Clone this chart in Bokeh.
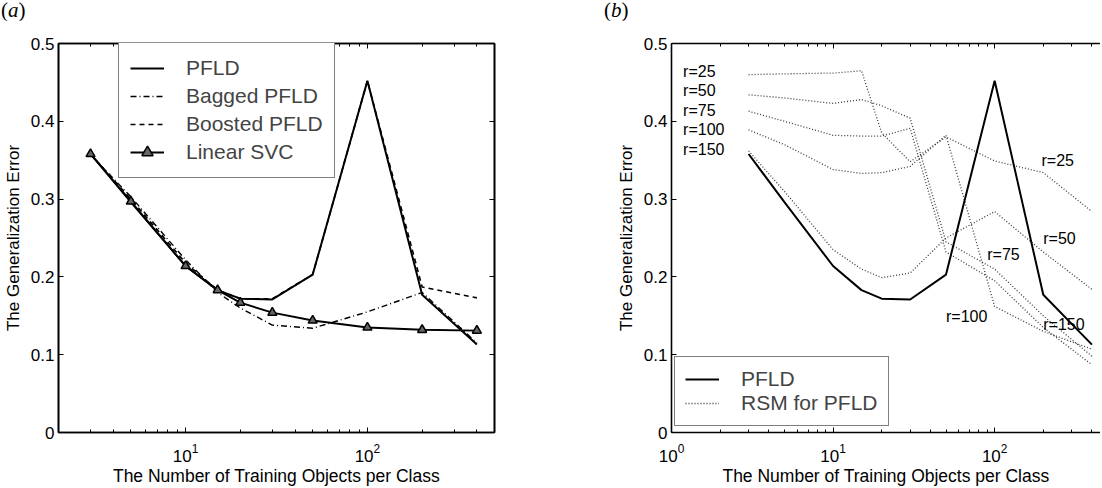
from bokeh.plotting import figure
from bokeh.models import (Range1d, FixedTicker, LogAxis, LinearAxis, Legend, LegendItem, Label, Div)
from bokeh.layouts import row, column
from bokeh.embed import file_html
from bokeh.resources import INLINE

# ---------------- data ----------------
n_train = [3, 5, 10, 15, 20, 30, 50, 100, 200, 400]

# panel (a)
pfld = [0.358, 0.296, 0.214, 0.183, 0.172, 0.171, 0.203, 0.452, 0.177, 0.113]
bagged_pfld = [0.357, 0.303, 0.222, 0.180, 0.160, 0.138, 0.134, 0.155, 0.180, 0.115]
boosted_pfld = [0.358, 0.300, 0.218, 0.183, 0.172, 0.172, 0.203, 0.452, 0.187, 0.173]
linear_svc = [0.358, 0.297, 0.214, 0.183, 0.167, 0.154, 0.144, 0.135, 0.132, 0.131]

# panel (b): RSM for PFLD, five subspace sizes
rsm_r25 = [0.460, 0.461, 0.462, 0.465, 0.385, 0.348, 0.380, 0.349, 0.334, 0.284]
rsm_r50 = [0.434, 0.430, 0.423, 0.428, 0.420, 0.404, 0.245, 0.210, 0.150, 0.098]
rsm_r75 = [0.413, 0.400, 0.382, 0.381, 0.381, 0.391, 0.232, 0.195, 0.135, 0.087]
rsm_r100 = [0.389, 0.370, 0.338, 0.333, 0.334, 0.342, 0.382, 0.162, 0.130, 0.107]
rsm_r150 = [0.362, 0.310, 0.235, 0.210, 0.199, 0.205, 0.250, 0.284, 0.232, 0.184]
rsm_series = [rsm_r25, rsm_r50, rsm_r75, rsm_r100, rsm_r150]
rsm_names = ["r=25", "r=50", "r=75", "r=100", "r=150"]

y_ticks = [0, 0.1, 0.2, 0.3, 0.4, 0.5]
y_tick_labels = ["0", "0.1", "0.2", "0.3", "0.4", "0.5"]

FONT = "Liberation Sans"


def style_axis(ax, minor=True):
    ax.axis_line_width = 1.6
    ax.axis_line_color = "black"
    ax.major_tick_in = 5
    ax.major_tick_out = 0
    ax.minor_tick_in = 3 if minor else 0
    ax.minor_tick_out = 0
    ax.major_tick_line_color = "black"
    ax.minor_tick_line_color = "black"
    ax.major_label_text_font = FONT
    ax.major_label_text_color = "black"
    ax.axis_label_text_font = FONT
    ax.axis_label_text_font_style = "normal"
    ax.axis_label_text_color = "black"


def blank_labels(ax, ticks):
    ax.major_label_overrides = {t: "" for t in ticks}
    ax.major_label_text_font_size = "4px"
    ax.major_label_standoff = 0


def make_fig(x0, x1, xt, xminor, fw, bl, br, outline=True):
    p = figure(x_axis_type="log", x_range=Range1d(x0, x1), y_range=Range1d(0, 0.5),
               frame_width=fw, frame_height=389,
               min_border_left=bl, min_border_right=br, min_border_top=23, min_border_bottom=44,
               toolbar_location=None, output_backend="svg",
               background_fill_color="white", border_fill_color="white")
    p.grid.visible = False
    p.outline_line_color = "black" if outline else None
    p.outline_line_width = 1.6

    xa = p.xaxis[0]
    xa.ticker = FixedTicker(ticks=xt, minor_ticks=xminor)
    style_axis(xa)
    xa.major_label_text_font_size = "17px"
    xa.major_label_standoff = 11
    xa.axis_label = "The Number of Training Objects per Class"
    xa.axis_label_text_font_size = "17.5px"
    xa.axis_label_standoff = 1

    ya = p.yaxis[0]
    ya.ticker = FixedTicker(ticks=y_ticks)
    ya.major_label_overrides = {t: s for t, s in zip(y_ticks, y_tick_labels)}
    style_axis(ya, minor=False)
    ya.major_label_text_font_size = "17px"
    ya.major_label_standoff = 4
    ya.axis_label = "The Generalization Error"
    ya.axis_label_text_font_size = "17px"
    ya.axis_label_standoff = 5

    top = LogAxis(ticker=FixedTicker(ticks=xt, minor_ticks=xminor))
    style_axis(top)
    blank_labels(top, xt)
    p.add_layout(top, "above")
    return p


minor_a = [2, 3, 4, 5, 6, 7, 8, 9, 20, 30, 40, 50, 60, 70, 80, 90, 200, 300, 400, 500]
minor_b = [2, 3, 4, 5, 6, 7, 8, 9, 20, 30, 40, 50, 60, 70, 80, 90, 200, 300, 400]

# ---------------- panel (a) ----------------
pa = make_fig(2, 500, [10, 100], minor_a, 436, 51, 59, outline=True)
right = LinearAxis(ticker=FixedTicker(ticks=y_ticks))
style_axis(right, minor=False)
blank_labels(right, y_ticks)
pa.add_layout(right, "right")

r_bag = pa.line(n_train, bagged_pfld, line_color="black", line_width=1.4, line_dash="6 3 1 3")
r_boost = pa.line(n_train, boosted_pfld, line_color="black", line_width=1.6, line_dash="5 4")
r_pfld = pa.line(n_train, pfld, line_color="black", line_width=2.0)
r_svc_l = pa.line(n_train, linear_svc, line_color="black", line_width=1.9)
r_svc_m = pa.scatter(n_train, linear_svc, marker="triangle", size=9,
                     line_color="black", fill_color="#666666", line_width=1.5)

leg_a = Legend(items=[
    LegendItem(label="PFLD", renderers=[r_pfld]),
    LegendItem(label="Bagged PFLD", renderers=[r_bag]),
    LegendItem(label="Boosted PFLD", renderers=[r_boost]),
    LegendItem(label="Linear SVC", renderers=[r_svc_l, r_svc_m]),
], location=(60, 254))
leg_a.label_text_font = FONT
leg_a.label_text_font_size = "21px"
leg_a.label_height = 28
leg_a.glyph_height = 28
leg_a.glyph_width = 34
leg_a.label_standoff = 22
leg_a.spacing = 0
leg_a.padding = 11
leg_a.border_line_color = "black"
leg_a.border_line_width = 1.2
leg_a.background_fill_color = "white"
leg_a.background_fill_alpha = 1
pa.add_layout(leg_a, "center")

# ---------------- panel (b) ----------------
pb = make_fig(1, 452, [1, 10, 100], minor_b, 429, 118, 0, outline=False)

rsm_renderers = []
for s in rsm_series:
    rr = pb.line(n_train, s, line_color="#3a3a3a", line_width=1.3, line_dash="1 2")
    rsm_renderers.append(rr)
r_pfld_b = pb.line(n_train, pfld, line_color="black", line_width=2.0)

leg_b = Legend(items=[
    LegendItem(label="PFLD", renderers=[r_pfld_b]),
    LegendItem(label="RSM for PFLD", renderers=[rsm_renderers[0]]),
], location=(3, 6))
leg_b.label_text_font = FONT
leg_b.label_text_font_size = "21px"
leg_b.label_height = 24
leg_b.glyph_height = 24
leg_b.glyph_width = 34
leg_b.label_standoff = 22
leg_b.spacing = 0
leg_b.padding = 10
leg_b.border_line_color = "black"
leg_b.border_line_width = 1.2
leg_b.background_fill_color = "white"
leg_b.background_fill_alpha = 1
pb.add_layout(leg_b, "center")

left_label_y = [0.464, 0.439, 0.414, 0.389, 0.364]
for name, yy in zip(rsm_names, left_label_y):
    pb.add_layout(Label(x=1.18, y=yy, text=name, text_font=FONT, text_font_size="16px",
                        text_baseline="middle", text_color="black"))

right_label_pos = [(195, 0.349), (200, 0.250), (90, 0.229), (50, 0.1495), (200, 0.139)]
for name, (xx, yy) in zip(rsm_names, right_label_pos):
    pb.add_layout(Label(x=xx, y=yy, text=name, text_font=FONT, text_font_size="16px",
                        text_baseline="middle", text_color="black"))

# panel tags: upright parentheses, italic letter
tag_style = {"font-family": "Liberation Serif", "font-style": "normal", "font-size": "21px",
             "line-height": "20px", "color": "black"}
div_a = Div(text="(<i>a</i>)", width=546, height=20, margin=0,
            styles=dict(tag_style, **{"padding-left": "1px"}))
div_b = Div(text="(<i>b</i>)", width=547, height=20, margin=0,
            styles=dict(tag_style, **{"padding-left": "58px"}))

layout = column(row(div_a, div_b), row(pa, pb))
open("out.html", "w").write(file_html(layout, INLINE))
